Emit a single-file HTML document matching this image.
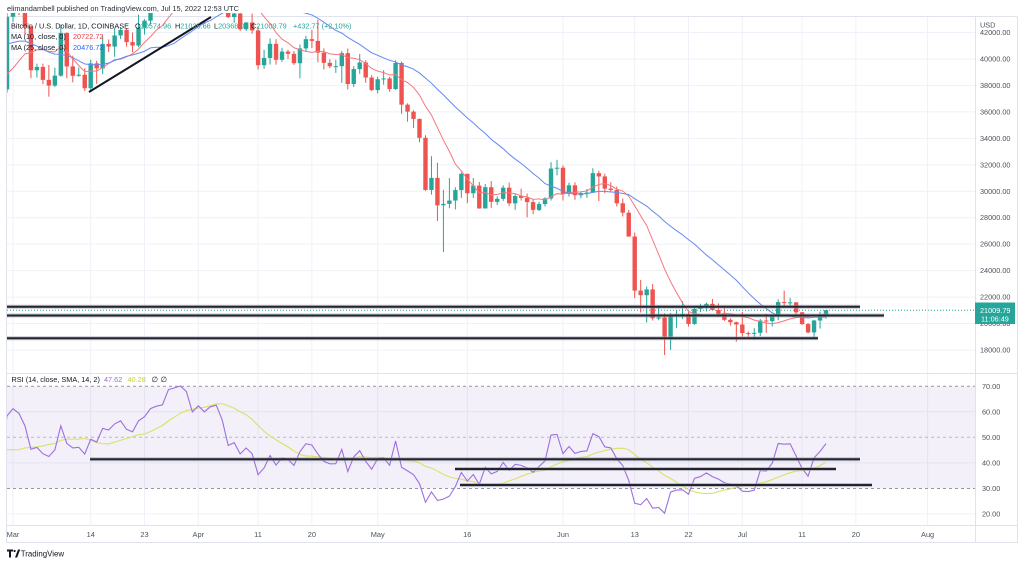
<!DOCTYPE html>
<html><head><meta charset="utf-8"><style>
html,body{margin:0;padding:0;background:#fff;width:1024px;height:565px;overflow:hidden}
svg{display:block}
text{font-family:"Liberation Sans",Arial,sans-serif}
</style></head><body>
<svg id="s" width="1024" height="565" viewBox="0 0 1024 565" xmlns="http://www.w3.org/2000/svg">
<defs>
<clipPath id="cm"><rect x="7" y="13" width="968" height="360"/></clipPath>
<clipPath id="cr"><rect x="7" y="374" width="968" height="151"/></clipPath>
</defs>
<rect width="1024" height="565" fill="#fff"/>
<g id="grid" stroke="#eef1f7" stroke-width="1"></g>
<rect x="7" y="386.3" width="968" height="102.2" fill="#7e57c2" fill-opacity="0.09"/>
<g stroke-width="1" fill="none">
<line x1="7" y1="386.3" x2="975" y2="386.3" stroke="#9598a1" stroke-dasharray="3,3"/>
<line x1="7" y1="437.3" x2="975" y2="437.3" stroke="#b8bbc4" stroke-dasharray="3,3"/>
<line x1="7" y1="488.5" x2="975" y2="488.5" stroke="#9598a1" stroke-dasharray="3,3"/>
</g>
<!-- frame -->
<g stroke="#e0e3eb" stroke-width="1" fill="none">
<line x1="7" y1="16.5" x2="1017" y2="16.5"/>
<line x1="6.5" y1="16.5" x2="6.5" y2="543"/>
<line x1="1017.5" y1="16.5" x2="1017.5" y2="543"/>
<line x1="975.5" y1="16.5" x2="975.5" y2="543"/>
<line x1="7" y1="373.5" x2="1017" y2="373.5"/>
<line x1="7" y1="525.5" x2="1017" y2="525.5"/>
<line x1="7" y1="542.5" x2="1017" y2="542.5"/>
</g>
<line x1="7" y1="310.2" x2="975" y2="310.2" stroke="#26a69a" stroke-width="1" stroke-dasharray="1,2"/>
<g id="candles" clip-path="url(#cm)"></g>
<g id="mas" clip-path="url(#cm)" fill="none" stroke-width="1"></g>
<g id="rsi" clip-path="url(#cr)" fill="none" stroke-width="1.1"></g>
<!-- drawn lines main -->
<g stroke-linecap="butt">
<g stroke="#9598a1" stroke-opacity="0.55" stroke-width="4">
<line x1="7" y1="306.7" x2="860" y2="306.7"/>
<line x1="7" y1="315.5" x2="884" y2="315.5"/>
<line x1="7" y1="338.3" x2="818" y2="338.3"/>
<line x1="90" y1="459.3" x2="860" y2="459.3"/>
<line x1="455" y1="469" x2="836" y2="469"/>
<line x1="460" y1="485" x2="872" y2="485"/>
</g>
<g stroke="#22252f" stroke-width="2">
<line x1="7" y1="306.7" x2="860" y2="306.7"/>
<line x1="7" y1="315.5" x2="884" y2="315.5"/>
<line x1="7" y1="338.3" x2="818" y2="338.3"/>
<line x1="90" y1="459.3" x2="860" y2="459.3"/>
<line x1="455" y1="469" x2="836" y2="469"/>
<line x1="460" y1="485" x2="872" y2="485"/>
</g>
<line x1="89" y1="92" x2="211" y2="17" stroke="#131722" stroke-width="2"/>
</g>
<!-- header -->
<rect x="0" y="0" width="1024" height="13" fill="#fff"/>
<text x="7" y="11" font-size="7.4" fill="#2a2e39">elimandambell published on TradingView.com, Jul 15, 2022 12:53 UTC</text>
<!-- legend -->
<g font-size="7.3" fill="#131722">
<text x="11" y="28.3">Bitcoin / U.S. Dollar, 1D, COINBASE</text>
<text x="135" y="28.3">O<tspan fill="#26a69a">20574.96</tspan></text>
<text x="175" y="28.3">H<tspan fill="#26a69a">21035.66</tspan></text>
<text x="214" y="28.3">L<tspan fill="#26a69a">20368.06</tspan></text>
<text x="251" y="28.3">C<tspan fill="#26a69a">21009.79</tspan></text>
<text x="293" y="28.3" fill="#26a69a">+432.77 (+2.10%)</text>
<text x="11" y="39">MA (10, close, 0)</text>
<text x="73" y="39" fill="#f23645">20722.72</text>
<text x="11" y="50">MA (25, close, 0)</text>
<text x="73" y="50" fill="#2962ff">20476.73</text>
<text x="11.5" y="382">RSI (14, close, SMA, 14, 2)</text>
<text x="104" y="382" fill="#9a6be0">47.62</text>
<text x="127.5" y="382" fill="#c2d22a">40.28</text>
<text x="151.5" y="382">∅</text>
<text x="160.5" y="382">∅</text>
</g>
<!-- price axis -->
<g font-size="7.3" fill="#4c525e">
<text x="980" y="35">42000.00</text>
<text x="980" y="61.5">40000.00</text>
<text x="980" y="88">38000.00</text>
<text x="980" y="114.4">36000.00</text>
<text x="980" y="140.9">34000.00</text>
<text x="980" y="167.3">32000.00</text>
<text x="980" y="193.8">30000.00</text>
<text x="980" y="220.2">28000.00</text>
<text x="980" y="246.7">26000.00</text>
<text x="980" y="273.1">24000.00</text>
<text x="980" y="299.6">22000.00</text>
<text x="980" y="326">20000.00</text>
<text x="980" y="352.5">18000.00</text>
<text x="982" y="388.8">70.00</text>
<text x="982" y="414.3">60.00</text>
<text x="982" y="439.8">50.00</text>
<text x="982" y="465.3">40.00</text>
<text x="982" y="491">30.00</text>
<text x="982" y="516.5">20.00</text>
</g>
<rect x="976" y="17" width="41" height="12.5" fill="#fff"/>
<text x="980" y="27.5" font-size="7.3" fill="#4c525e">USD</text>
<rect x="975" y="302.5" width="40" height="21.5" fill="#26a69a"/>
<text x="980" y="312.8" font-size="7.3" fill="#fff">21009.79</text>
<text x="981" y="321.3" font-size="7.3" fill="#fff">11:06:49</text>
<!-- time axis -->
<g font-size="7.4" fill="#4c525e" text-anchor="middle">
<text x="13" y="536.8">Mar</text>
<text x="90.7" y="536.8">14</text>
<text x="144.5" y="536.8">23</text>
<text x="198.3" y="536.8">Apr</text>
<text x="258" y="536.8">11</text>
<text x="311.9" y="536.8">20</text>
<text x="377.7" y="536.8">May</text>
<text x="467.3" y="536.8">16</text>
<text x="563" y="536.8">Jun</text>
<text x="634.7" y="536.8">13</text>
<text x="688.5" y="536.8">22</text>
<text x="742.3" y="536.8">Jul</text>
<text x="802" y="536.8">11</text>
<text x="855.9" y="536.8">20</text>
<text x="927.6" y="536.8">Aug</text>
</g>
<!-- logo -->
<path d="M7 549.5h6v2h-2v6h-2v-6h-2z" fill="#131722"/>
<circle cx="14.6" cy="551" r="1.1" fill="#131722"/>
<path d="M15 557.5l3-8h2.2l-3 8z" fill="#131722"/>
<text x="20.7" y="556.3" font-size="7.9" fill="#131722">TradingView</text>
</svg>
<script>
(function(){
var NS="http://www.w3.org/2000/svg";
var pre=[47690,47300,46450,45830,43430,43100,41550,41680,41860,41830,42740,43920,42590,43090,43100,43180,42250,42370,41660,40680,36460,35070,36280,36680,36960,36830,37170,37710,38170,37920,38480,
38700,36900,37300,41500,41400,42400,43850,44050,44400,43550,42400,42200,42200,42580,44580,43950,40550,40000,40100,38400,37050,38250,37250,38350,39250,39150,37700];
var D=[
[37700,44200,37450,43190],[43190,44950,42800,44420],[44420,45400,43330,43900],[43900,44100,41850,42450],[42450,42500,38550,39150],
[39150,39650,38600,39400],[39400,39650,38100,38420],[38420,39550,37150,37990],[37990,39350,37880,38740],[38740,42600,38660,41970],
[41970,42000,38550,39440],[39440,40250,38230,38730],[38730,39360,38660,38810],[38810,39300,37580,37790],[37790,39940,37580,39670],
[39670,39870,38120,39290],[39290,41720,38850,41140],[41140,41480,40520,40940],[40940,42320,40170,41780],[41780,42400,41500,42200],
[42200,42300,40930,41280],[41280,42000,40500,41020],[41020,43350,40900,42370],[42370,43000,41850,42900],[42900,44150,42600,44000],
[44000,45100,43600,44340],[44340,44800,44100,44520],[44520,46920,44400,46820],[46820,48190,46650,47130],[47130,48100,46950,47440],
[47440,47690,46560,47060],[47060,47600,45200,45510],
[45510,46700,44200,46280],[46280,47200,45620,45810],[45810,47440,45540,46410],[46410,46880,45150,46600],[46600,47200,45370,45500],
[45500,45500,43100,43170],[43170,43900,42730,43440],[43440,43970,42110,42250],[42250,42800,42120,42760],[42760,43430,41900,42160],
[42160,42420,39200,39530],[39530,40700,39250,40080],[40080,41560,39580,41150],[41150,41500,39570,39940],[39940,40850,39780,40560],
[40560,40700,40000,40390],[40390,40600,39550,39680],[39680,41100,38540,40800],[40800,41760,40560,41500],[41500,42200,40830,41370],
[41370,42980,39750,40480],[40480,40800,39200,39710],[39710,39980,39300,39450],[39450,39930,38950,39460],[39460,40600,38200,40440],
[40440,40790,37700,38110],[38110,39460,37880,39240],[39240,40380,38880,39740],[39740,39920,38200,38600],[38600,38780,37580,37650],
[37650,38650,37400,38470],[38470,39150,38060,38530],[38530,38650,37520,37730],[37730,39900,37660,39700],[39700,39800,35860,36550],
[36550,36650,35260,36020],[36020,36130,34780,35470],[35470,35500,33700,34040],[34040,34240,30030,30100],[30100,32650,29750,31010],
[31010,32160,27750,28940],[28940,30100,25400,29050],[29050,31000,28720,29300],[29300,30300,28630,30090],[30090,31420,29500,31320],
[31320,31320,29100,29850],[29850,31000,29500,30430],[30430,30700,28680,28700],[28700,30550,28700,30310],[30310,30770,28750,29200],
[29200,29610,28970,29430],[29430,30450,29270,30270],[30270,30650,28900,29090],[29090,29820,28600,29640],[29640,30200,29300,29500],
[29500,29830,28030,29180],[29180,29370,28260,28590],[28590,29200,28500,29030],[29030,29550,28850,29460],[29460,32200,29300,31720],
[31720,32380,31200,31780],
[31780,31950,29300,29800],[29800,30650,29600,30450],[30450,30680,29350,29700],[29700,29950,29470,29860],[29860,30170,29500,29900],
[29900,31740,29880,31370],[31370,31560,29250,31120],[31120,31330,29850,30200],[30200,30680,29960,30100],[30100,30350,28850,29090],
[29090,29450,28100,28380],[28380,28580,26560,26580],[26580,26880,21920,22490],[22490,23300,20840,22140],[22140,22800,20080,22580],
[22580,22990,20230,20400],[20400,21360,20250,20450],[20450,20780,17620,19000],[19000,20800,18000,20560],[20560,21000,19650,20710],
[20710,21700,20350,20730],[20730,20870,19770,19970],[19970,21200,19900,21100],[21100,21500,20870,21230],[21230,21580,20920,21490],
[21490,21860,21010,21030],[21030,21520,20520,20730],[20730,21180,20200,20280],[20280,20400,19850,20100],[20100,20140,18630,19930],
[19930,20870,19000,19280],[19280,19400,18980,19240],[19240,19650,18780,19300],[19300,20350,19050,20230],[20230,20750,19300,20180],
[20180,20650,19780,20560],[20560,21830,20250,21620],[21620,22500,21190,21580],[21580,21950,21330,21600],[21600,21620,20650,20850],
[20850,20870,19880,19960],[19960,20050,19250,19330],[19330,20280,18920,20230],[20230,20890,19620,20580],[20574.96,21035.66,20368.06,21009.79]
];
var data=[],prev=46220;
for(var k=0;k<pre.length;k++){var c=pre[k];data.push([prev,Math.max(prev,c)+300,Math.min(prev,c)-300,c]);prev=c;}
data=data.concat(D);
var M=pre.length+1; // index of Mar 1
var S=M-3; // first index to draw
function X(i){return 13+5.978*(i-M);}
function Y(p){return 59+(40000-p)*0.013227;}
function YR(r){return 437.3-(r-50)*2.555;}
function el(tag,attrs,parent){var e=document.createElementNS(NS,tag);for(var a in attrs)e.setAttribute(a,attrs[a]);parent.appendChild(e);return e;}
// grid
var g=document.getElementById('grid');
var vx=[13,90.7,144.5,198.3,258,311.9,377.7,467.3,563,634.7,688.5,742.3,802,855.9,927.6];
vx.forEach(function(x){el('line',{x1:x,y1:17,x2:x,y2:525},g);});
for(var p=18000;p<=42000;p+=2000){var y=Y(p);el('line',{x1:7,y1:y,x2:975,y2:y},g);}
[60,40,20].forEach(function(r){var y=YR(r);el('line',{x1:7,y1:y,x2:975,y2:y},g);});
// candles
var cg=document.getElementById('candles');
for(var i=S;i<data.length;i++){
 var d=data[i],x=X(i),up=d[3]>=d[0],col=up?'#26a69a':'#ef5350';
 el('line',{x1:x,y1:Y(d[1]),x2:x,y2:Y(d[2]),stroke:col,'stroke-width':1},cg);
 var y1=Y(Math.max(d[0],d[3])),y2=Y(Math.min(d[0],d[3]));
 el('rect',{x:x-2.2,y:y1,width:4.4,height:Math.max(1,y2-y1),fill:col},cg);
}
// MAs
var mg=document.getElementById('mas');
function ma(n,color){var pts=[];for(var i=S;i<data.length;i++){var s=0;for(var j=i-n+1;j<=i;j++)s+=data[j][3];pts.push(X(i).toFixed(2)+','+Y(s/n).toFixed(2));}
 el('polyline',{points:pts.join(' '),stroke:color},mg);}
ma(10,'#f7767c');ma(25,'#6489f2');
// RSI
var cl=data.map(function(r){return r[3];});
var rsi=[],ag=0,al=0;
for(var i=1;i<cl.length;i++){
 var ch=cl[i]-cl[i-1],gn=Math.max(ch,0),ls=Math.max(-ch,0);
 if(i<=14){ag+=gn/14;al+=ls/14;if(i==14)rsi[i]=100-100/(1+ag/al);}
 else{ag=(ag*13+gn)/14;al=(al*13+ls)/14;rsi[i]=al==0?100:100-100/(1+ag/al);}
}
var rg=document.getElementById('rsi'),p1=[],p2=[];
for(var i=S;i<cl.length;i++){
 p1.push(X(i).toFixed(2)+','+YR(rsi[i]).toFixed(2));
 var s=0;for(var j=i-13;j<=i;j++)s+=rsi[j];p2.push(X(i).toFixed(2)+','+YR(s/14).toFixed(2));
}
el('polyline',{points:p2.join(' '),stroke:'#d9e264'},rg);
el('polyline',{points:p1.join(' '),stroke:'#9d6fe0'},rg);
})();
</script>
</body></html>
